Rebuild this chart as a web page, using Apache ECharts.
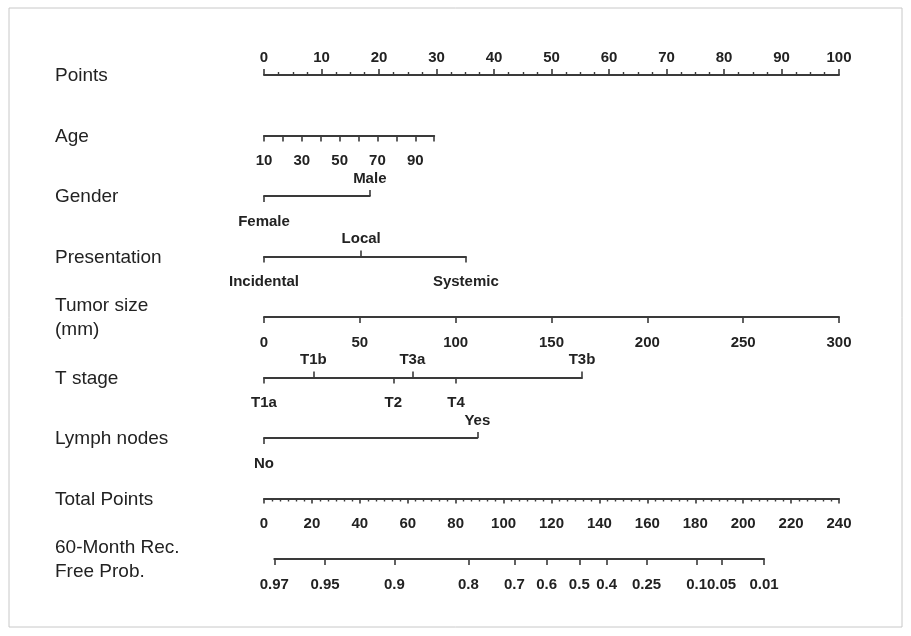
<!DOCTYPE html>
<html>
<head>
<meta charset="utf-8">
<script src="https://cdn.jsdelivr.net/npm/echarts@6/dist/echarts.min.js"></script>
<style>
  html, body { margin: 0; background: #fff; }
  #chart { width: 911px; height: 636px; }
</style>
</head>
<body>
<div id="chart"></div>
<script>
// Nomogram: 60-month recurrence-free probability.
// Each row is its own grid; all rows share one points scale (0..100) horizontally.

const rowNames = ['Points', 'Age', 'Gender', 'Presentation', 'Tumor size\n(mm)',
  'T stage', 'Lymph nodes', 'Total Points', '60-Month Rec.\nFree Prob.'];

const pointsRange = [0, 100];

const ageRange = [10, 100];
const agePointsMax = 29.6;          // age 100 sits at ~29.6 points
const ageLabels = [10, 30, 50, 70, 90];

const tumorRange = [0, 300];        // 300 mm = 100 points

const genderLevels = ['Female', 'Male'];
const genderPoints = [0, 18.4];
const genderSide = ['below', 'above'];

const presLevels = ['Incidental', 'Local', 'Systemic'];
const presPoints = [0, 16.9, 35.1];
const presSide = ['below', 'above', 'below'];

const tLevels = ['T1a', 'T1b', 'T2', 'T3a', 'T4', 'T3b'];
const tPoints = [0, 8.6, 22.5, 25.8, 33.4, 55.3];
const tSide = ['below', 'above', 'below', 'above', 'below', 'above'];

const lymphLevels = ['No', 'Yes'];
const lymphPoints = [0, 37.1];
const lymphSide = ['below', 'above'];

const totalRange = [0, 240];

const probLabels = ['0.97', '0.95', '0.9', '0.8', '0.7', '0.6', '0.5', '0.4', '0.25', '0.1', '0.05', '0.01'];
const probTotals = [4.3, 25.5, 54.4, 85.3, 104.5, 118, 131.6, 143, 159.7, 180.6, 191, 208.7];

// layout
const X0 = 264, X1 = 839;
const PX = (X1 - X0) / 100;                 // px per point
const PX_TOTAL = (X1 - X0) / totalRange[1]; // px per total point
const rowY = i => 75 + i * 60.5;
const INK = '#3a3a3a';
const TXT = '#222';
const FONT = '"Liberation Sans", Arial, sans-serif';

const grids = [], xAxes = [], yAxes = [];

function addGrid(i, left, width) {
  grids.push({ left, width, top: rowY(i), height: 0 });
  yAxes.push({ type: 'value', gridIndex: grids.length - 1, show: false, min: 0, max: 1 });
  return grids.length - 1;
}

function axis(gridIndex, position, min, max, extra = {}) {
  const top = position === 'top';
  return {
    type: 'value', gridIndex, position, min, max,
    splitLine: { show: false },
    axisLine: { show: true, onZero: false, lineStyle: { color: INK, width: 2 } },
    axisTick: { show: true, length: 6, lineStyle: { color: INK, width: 1.6 }, ...(extra.axisTick || {}) },
    minorTick: extra.minorTick || { show: false },
    axisLabel: {
      color: TXT, fontSize: 15, fontWeight: 'bold', fontFamily: FONT, margin: top ? 10 : 18,
      showMinLabel: true, showMaxLabel: true, hideOverlap: false,
      ...(extra.axisLabel || {}),
    },
    interval: extra.interval,
  };
}

// continuous rows
let g = addGrid(0, X0, 100 * PX);
xAxes.push(axis(g, 'top', pointsRange[0], pointsRange[1], {
  interval: 10,
  minorTick: { show: true, splitNumber: 4, length: 3, lineStyle: { color: INK, width: 1.4 } },
}));

g = addGrid(1, X0, agePointsMax * PX);
xAxes.push(axis(g, 'bottom', ageRange[0], ageRange[1], {
  interval: 10,
  axisLabel: { formatter: v => (ageLabels.includes(v) ? String(v) : '') },
}));

// categorical rows: bottom axis carries the levels labelled below, top axis those above
function categorical(i, levels, points, side) {
  const max = Math.max(...points);
  const gi = addGrid(i, X0, max * PX);
  const name = v => levels[points.indexOf(v)];
  const below = points.filter((p, k) => side[k] === 'below');
  const above = points.filter((p, k) => side[k] === 'above');
  xAxes.push(axis(gi, 'bottom', 0, max, {
    axisTick: { customValues: below },
    axisLabel: { customValues: below, formatter: name },
  }));
  const ax = axis(gi, 'top', 0, max, {
    axisTick: { customValues: above },
    axisLabel: { customValues: above, formatter: name },
  });
  ax.axisLine.show = false;
  xAxes.push(ax);
}

categorical(2, genderLevels, genderPoints, genderSide);
categorical(3, presLevels, presPoints, presSide);

g = addGrid(4, X0, 100 * PX);
xAxes.push(axis(g, 'bottom', tumorRange[0], tumorRange[1], { interval: 50 }));

categorical(5, tLevels, tPoints, tSide);
categorical(6, lymphLevels, lymphPoints, lymphSide);

g = addGrid(7, X0, totalRange[1] * PX_TOTAL);
xAxes.push(axis(g, 'bottom', totalRange[0], totalRange[1], {
  interval: 20,
  axisTick: { length: 5 },
  minorTick: { show: true, splitNumber: 6, length: 3, lineStyle: { color: INK, width: 1.4 } },
}));

const p0 = probTotals[0], p1 = probTotals[probTotals.length - 1];
g = addGrid(8, X0 + p0 * PX_TOTAL, (p1 - p0) * PX_TOTAL);
xAxes.push(axis(g, 'bottom', p0, p1, {
  axisTick: { customValues: probTotals },
  axisLabel: { customValues: probTotals, formatter: v => probLabels[probTotals.indexOf(v)] },
}));

const chart = echarts.init(document.getElementById('chart'));
chart.setOption({
  backgroundColor: '#fff',
  animation: false,
  grid: grids,
  xAxis: xAxes,
  yAxis: yAxes,
  series: [],
  graphic: [
    {
      type: 'rect', silent: true,
      shape: { x: 9, y: 8, width: 893, height: 619 },
      style: { fill: 'none', stroke: '#c8c8c8', lineWidth: 1 },
    },
    ...rowNames.map((t, i) => ({
      type: 'text', silent: true,
      x: 55, y: rowY(i) + 1,
      style: { text: t, fill: TXT, font: `19px ${FONT}`, verticalAlign: 'middle', lineHeight: 24 },
    })),
  ],
});
</script>
</body>
</html>
